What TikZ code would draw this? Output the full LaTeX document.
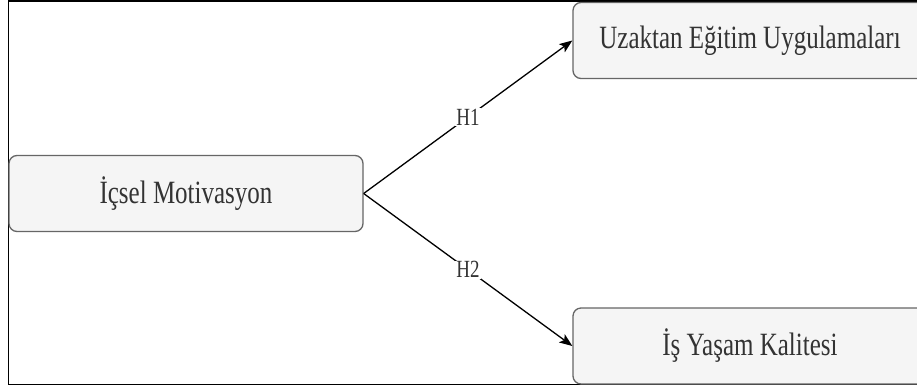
\documentclass[tikz,border=0pt]{standalone}
\usepackage{fontspec}
\setmainfont{Liberation Serif}
\usetikzlibrary{arrows.meta}
\definecolor{boxfill}{HTML}{F5F5F5}
\definecolor{boxline}{HTML}{666666}
\definecolor{boxtext}{HTML}{333333}
\newcommand{\vtext}[1]{\scalebox{1}[1.3]{#1}}
\begin{document}
\begin{tikzpicture}[x=1pt,y=-1pt,
  box/.style={draw=boxline, fill=boxfill, line width=1.3pt, rounded corners=8pt,
    minimum width=354pt, minimum height=76pt, inner sep=0pt, text=boxtext,
    font=\fontsize{25}{25}\selectfont},
  conn/.style={line width=1.3pt, -{Stealth[length=13pt,width=10pt,inset=3pt]}},
  hlabel/.style={fill=white, inner sep=1pt, text=boxtext, font=\fontsize{19}{19}\selectfont},
  frame/.style={line width=1.5pt}]
\useasboundingbox (0,0) rectangle (917,389);
\clip (0,0) rectangle (917,389);
\fill[white] (0,0) rectangle (917,389);
\draw[frame] (917,1) -- (8.5,1) -- (8.5,384.5) -- (917,384.5);
\node[box] (im) at (186,193.5) {\vtext{İçsel Motivasyon}};
\node[box] (ue) at (750,40.5) {\vtext{Uzaktan Eğitim Uygulamaları}};
\node[box] (iy) at (750,346) {\vtext{İş Yaşam Kalitesi}};
\coordinate (src) at (im.east);
\draw[conn] (src) -- node[hlabel] {\vtext{H1}} (ue.west);
\draw[conn] (src) -- node[hlabel] {\vtext{H2}} (iy.west);
\end{tikzpicture}
\end{document}
